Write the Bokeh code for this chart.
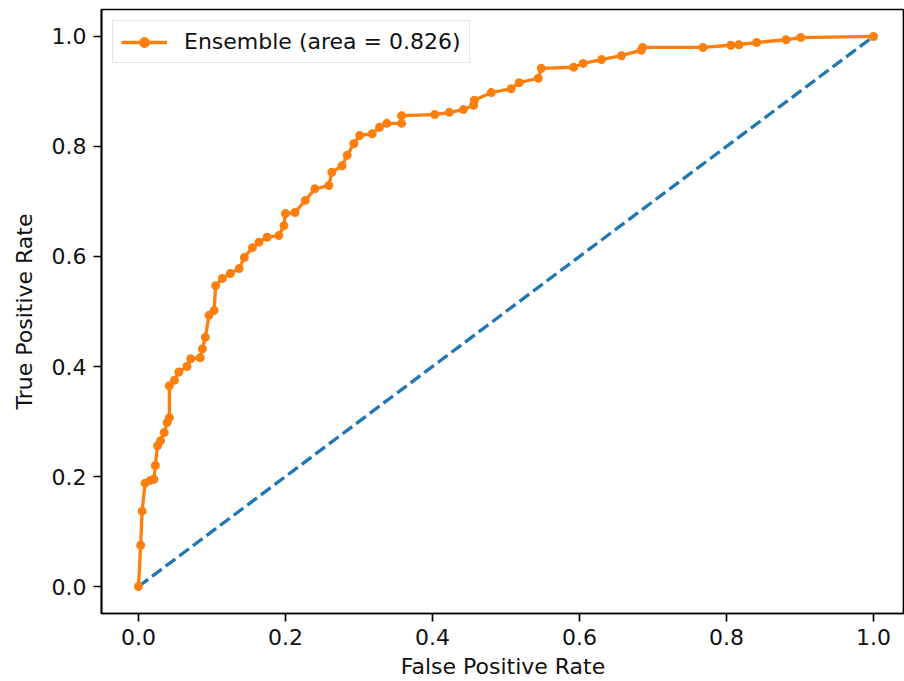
from bokeh.plotting import figure
from bokeh.models import Range1d, FixedTicker, NumeralTickFormatter
from bokeh.embed import file_html
from bokeh.resources import INLINE

# ROC data
fpr = [0.0, 0.003, 0.005, 0.009, 0.016, 0.021, 0.023, 0.026, 0.030, 0.035,
       0.039, 0.042, 0.042, 0.049, 0.055, 0.066, 0.071, 0.084, 0.087, 0.091,
       0.096, 0.103, 0.105, 0.114, 0.125, 0.137, 0.144, 0.155, 0.164, 0.175,
       0.191, 0.198, 0.200, 0.213, 0.227, 0.240, 0.259, 0.263, 0.277, 0.284,
       0.293, 0.301, 0.318, 0.328, 0.338, 0.358, 0.358, 0.403, 0.423, 0.442,
       0.456, 0.457, 0.480, 0.507, 0.518, 0.544, 0.548, 0.592, 0.605, 0.630,
       0.657, 0.684, 0.686, 0.768, 0.806, 0.817, 0.841, 0.881, 0.901, 1.0]
tpr = [0.0, 0.075, 0.137, 0.188, 0.193, 0.195, 0.22, 0.256, 0.265, 0.28,
       0.298, 0.307, 0.365, 0.375, 0.39, 0.40, 0.414, 0.416, 0.432, 0.453,
       0.493, 0.502, 0.547, 0.56, 0.569, 0.578, 0.598, 0.616, 0.626, 0.635,
       0.638, 0.656, 0.678, 0.68, 0.702, 0.723, 0.729, 0.753, 0.765, 0.784,
       0.805, 0.82, 0.823, 0.835, 0.842, 0.842, 0.856, 0.858, 0.862, 0.867,
       0.875, 0.884, 0.898, 0.905, 0.916, 0.924, 0.942, 0.944, 0.951, 0.958,
       0.965, 0.975, 0.98, 0.98, 0.984, 0.985, 0.989, 0.994, 0.998, 1.0]
diag_x = [0.0, 1.0]
diag_y = [0.0, 1.0]
ticks = [0.0, 0.2, 0.4, 0.6, 0.8, 1.0]
legend_text = "Ensemble (area = 0.826)"
x_label = "False Positive Rate"
y_label = "True Positive Rate"

FONT = "DejaVu Sans"
FS = "22px"

p = figure(width=904, height=681, output_backend="svg", toolbar_location=None,
           x_range=Range1d(-0.0503, 1.0422), y_range=Range1d(-0.049, 1.049),
           min_border_left=101, min_border_top=9, min_border_bottom=68,
           min_border_right=0)
p.background_fill_color = "white"
p.border_fill_color = "white"
p.outline_line_color = "black"
p.outline_line_width = 1.7
p.xgrid.visible = False
p.ygrid.visible = False

p.line(diag_x, diag_y, line_color="#1f77b4", line_width=3.3, line_dash="12 5")
p.line(fpr, tpr, line_color="#ff7f0e", line_width=3.3, legend_label=legend_text)
p.scatter(fpr, tpr, size=7, line_width=2, fill_color="#ff7f0e",
          line_color="#ff7f0e", legend_label=legend_text)

for ax, lab in ((p.xaxis[0], x_label), (p.yaxis[0], y_label)):
    ax.ticker = FixedTicker(ticks=ticks)
    ax.formatter = NumeralTickFormatter(format="0.0")
    ax.axis_label = lab
    ax.axis_label_text_font = FONT
    ax.axis_label_text_font_size = FS
    ax.axis_label_text_font_style = "normal"
    ax.axis_label_text_color = "#111111"
    ax.major_label_text_font = FONT
    ax.major_label_text_font_size = FS
    ax.major_label_text_color = "#111111"
    ax.axis_line_color = "black"
    ax.axis_line_width = 1.7
    ax.major_tick_line_color = "black"
    ax.major_tick_line_width = 1.7
    ax.major_tick_out = 8
    ax.major_tick_in = 0
    ax.minor_tick_line_color = None
    ax.major_label_standoff = 7

p.xaxis[0].axis_label_standoff = 6
p.yaxis[0].axis_label_standoff = 12

lg = p.legend[0]
lg.location = "top_left"
lg.margin = 11
lg.padding = 8
lg.label_text_font = FONT
lg.label_text_font_size = FS
lg.label_text_color = "#111111"
lg.glyph_width = 46
lg.glyph_height = 22
lg.label_standoff = 17
lg.border_line_color = "#cccccc"
lg.border_line_width = 1.5
lg.background_fill_alpha = 0.8

open("out.html", "w").write(file_html(p, INLINE))
